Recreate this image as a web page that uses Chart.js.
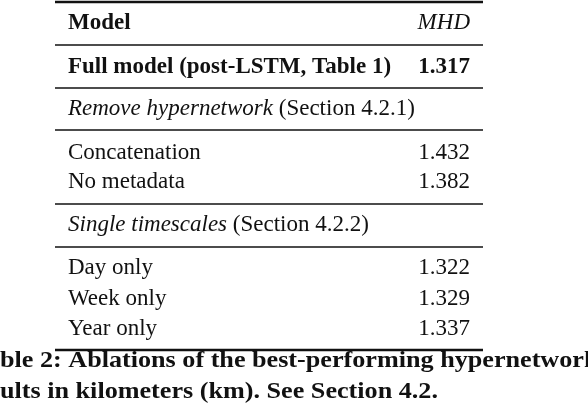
<!DOCTYPE html>
<html><head><meta charset="utf-8">
<script src="https://cdn.jsdelivr.net/npm/chart.js@4"></script>
<style>html,body{margin:0;padding:0;background:#fff}#c{display:block}</style>
</head><body>
<div style="width:588px;height:404px"><canvas id="c"></canvas></div>
<script>
const headers = ["Model", "MHD"];
const models = ["Full model (post-LSTM, Table 1)", "Concatenation", "No metadata", "Day only", "Week only", "Year only"];
const mhd = [1.317, 1.432, 1.382, 1.322, 1.329, 1.337];
const groups = [["Remove hypernetwork", " (Section 4.2.1)"], ["Single timescales", " (Section 4.2.2)"]];
const caption = ["Table 2: Ablations of the best-performing hypernetwork.", "Results in kilometers (km). See Section 4.2."];

const F = '"Liberation Serif", "DejaVu Serif", serif';
const S = '23px ';
const tablePlugin = {
  id: 'table',
  afterDraw(chart) {
    const ctx = chart.ctx, xs = chart.scales.x, ys = chart.scales.y;
    const X = v => xs.getPixelForValue(v), Y = v => ys.getPixelForValue(v);
    const L = X(68), R = X(470), x0 = X(55), x1 = X(483);
    ctx.save();
    ctx.fillStyle = '#111'; ctx.strokeStyle = '#111';
    const rule = (y, w) => { ctx.lineWidth = w; ctx.beginPath(); ctx.moveTo(x0, Y(y)); ctx.lineTo(x1, Y(y)); ctx.stroke(); };
    rule(2, 2.5); rule(45, 1.5); rule(88, 1.5); rule(130, 1.5); rule(204, 1.5); rule(247, 1.5); rule(350, 2.5);
    ctx.textBaseline = 'middle';
    const txt = (s, x, y, font, align) => { ctx.font = font; ctx.textAlign = align || 'left'; ctx.fillText(s, x, Y(y)); };
    txt(headers[0], L, 23, 'bold ' + S + F);
    txt(headers[1], R, 23, 'italic ' + S + F, 'right');
    txt(models[0], L, 67, 'bold ' + S + F);
    txt(mhd[0].toFixed(3), R, 67, 'bold ' + S + F, 'right');
    const g = (grp, y) => {
      ctx.font = 'italic ' + S + F; const w = ctx.measureText(grp[0]).width;
      txt(grp[0], L, y, 'italic ' + S + F);
      txt(grp[1], L + w, y, S + F);
    };
    g(groups[0], 109);
    g(groups[1], 225);
    const rowY = [null, 153, 182, 268, 299, 329];
    for (let i = 1; i < models.length; i++) {
      txt(models[i], L, rowY[i], S + F);
      txt(mhd[i].toFixed(3), R, rowY[i], S + F, 'right');
    }
    // caption, centered on table, stretched to match
    const cf = 'bold 24px ' + F;
    ctx.font = cf;
    const off = ctx.measureText('Ta').width;
    const w1 = ctx.measureText(caption[0]).width;
    const k = 605 / (w1 - off);
    ctx.save(); ctx.scale(k, 1);
    ctx.textAlign = 'left';
    ctx.fillText(caption[0], -off, Y(361));
    const off2 = ctx.measureText('Res').width;
    ctx.fillText(caption[1], -off2, Y(392));
    ctx.restore();
    ctx.restore();
  }
};

new Chart(document.getElementById('c'), {
  type: 'scatter',
  data: { datasets: [{ data: mhd.map((v, i) => ({x: 470, y: i})), pointRadius: 0 }] },
  options: {
    responsive: true, maintainAspectRatio: false, animation: false,
    layout: { padding: 0 },
    plugins: { legend: { display: false }, tooltip: { enabled: false } },
    scales: {
      x: { type: 'linear', min: 0, max: 588, display: false },
      y: { type: 'linear', min: 0, max: 404, reverse: true, display: false }
    }
  },
  plugins: [tablePlugin]
});
</script>
</body></html>
